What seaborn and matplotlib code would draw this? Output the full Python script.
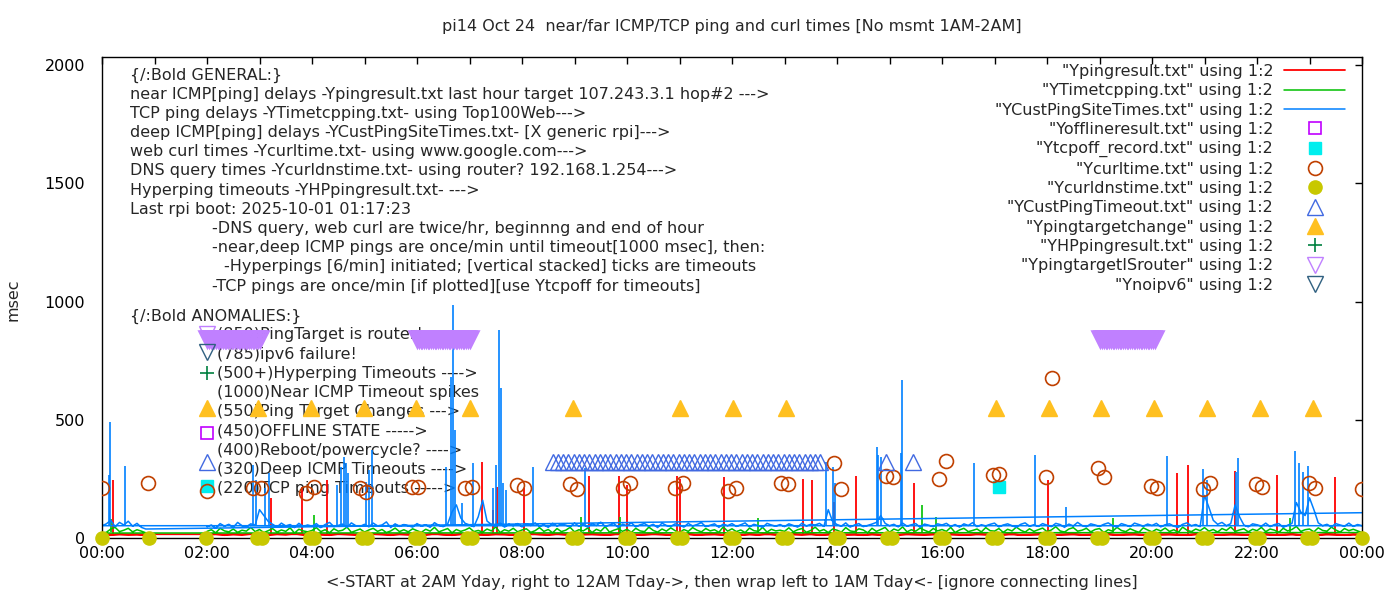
import numpy as np
import pandas as pd
import matplotlib
matplotlib.use('Agg')
import matplotlib.pyplot as plt
import seaborn as sns

# ---------------- data (x in hours, y in msec) ----------------
# segment A runs 02:00 -> 24:00, segment B wraps back to 00:00 -> 00:50

# near ICMP ping (red), one value per 10 min
red_a = """
14 16 12 15 13 17  15 12 16 14 18 13  16 14 12 17 15 13  13 17 15 12 16 14
15 13 18 14 12 16  17 14 13 16 15 12  14 18 15 13 17 14  12 15 16 14 13 18
16 13 14 17 15 12  14 17 12 15 16 13  15 12 16 13 18 14  13 16 14 17 12 15
17 14 15 12 16 13  14 13 17 15 14 16  12 16 14 13 17 15  15 14 18 12 14 16
16 13 15 17 13 14  14 17 12 15 16 13  13 15 16 14 12 17  17 12 14 16 15 13
15 16 13 14 17 12  14 13 17 15 12 16  14
"""
red_b = [16, 12, 15, 13, 14, 11]

# TCP ping (green), one value per 5 min
green_a = """
28 35 22 41 30 26 38 24 33 29 45 27   36 23 31 40 25 34 28 43 21 37 30 26
32 44 27 35 22 39 29 33 46 24 31 38   25 34 41 28 36 23 30 42 27 35 26 39
31 24 37 29 45 26 33 40 22 36 28 34   43 27 32 25 38 30 47 23 35 29 41 26
34 39 24 31 44 28 36 22 40 27 33 45   26 35 30 42 23 37 29 48 25 33 39 28
37 24 41 30 27 46 32 25 38 29 43 31   22 36 28 44 33 26 40 30 35 24 47 29
39 27 34 23 42 31 28 45 25 37 30 33   28 43 26 35 40 24 32 46 29 36 23 38
33 25 44 30 27 39 34 22 41 28 36 45   24 38 31 47 26 35 29 42 33 25 40 30
36 28 45 23 34 41 27 32 38 26 44 31   29 40 24 37 30 46 33 25 39 28 35 42
27 34 48 30 25 38 44 29 33 41 26 36   40 23 35 29 45 32 27 39 31 24 43 34
26 37 30 42 28 35 24 46 33 27 38 31   44 29 36 25 40 32 47 28 34 39 26 37
31 45 27 38 33 24 41 30 36 49 28 35   38 26 43 32 29 46 34 25 40 31 37 30
23
"""
green_b = [21, 24, 38, 45, 27, 33, 41, 26, 35, 29, 22]

# deep ICMP ping (blue), one value per 5 min
blue_a = """
48 55 42 61 50 58 45 66 52 47 60 54   120 95 70 58 46 63 51 57 44 62 49 55
50 61 44 57 66 48 53 59 45 64 52 49   58 47 63 51 55 68 44 60 49 57 52 46
61 50 56 45 65 53 48 59 110 140 85 62   55 48 90 160 72 57 50 63 46 58 52 61
47 59 53 64 49 56 45 62 51 58 54 48   63 50 57 46 60 53 67 49 55 61 45 58
52 64 47 56 61 50 58 44 63 53 49 60   55 46 62 51 57 65 48 54 60 45 59 52
61 49 56 64 47 58 52 45 62 55 50 57   48 60 53 46 63 51 58 55 62 49 120 70
57 50 64 46 55 61 48 53 59 66 95 62   52 58 47 63 50 56 61 45 59 54 48 60
55 62 49 57 46 60 53 65 48 56 51 58   63 47 55 60 52 45 58 64 50 56 49 61
54 48 62 57 45 59 51 66 53 47 60 55   49 58 64 52 46 61 55 48 63 57 50 59
53 62 47 56 60 50 45 58 64 52 57 48   180 130 75 58 66 52 61 140 90 55 47 60
56 50 63 48 57 61 45 54 62 150 110 95   170 120 64 52 58 47 61 55 50 63 49 57
52
"""
blue_b = [52, 60, 75, 48, 66, 55, 71, 50, 62, 45, 38]
blue_end = 107   # last point back at 24:00 (wrap line)

# single-minute spikes (hour, msec)
red_spike_t = [0.21, 3.22, 3.81, 4.28, 7.23, 7.45, 7.52, 8.03, 9.27, 9.84, 10.0, 10.95,
               11.0, 11.84, 13.35, 13.52, 13.94, 14.37, 15.47, 18.02, 20.47, 20.69,
               21.59, 22.39, 23.48]
red_spike_v = [246, 170, 216, 246, 322, 120, 216, 210, 263, 263, 225, 263,
               250, 258, 250, 246, 153, 263, 233, 246, 275, 309,
               284, 267, 258]
green_spike_t = [0.17, 4.04, 9.12, 9.86, 12.49, 15.62, 15.89, 19.25, 22.63]
green_spike_v = [80, 97, 89, 89, 85, 140, 89, 85, 85]
blue_spike_t = [0.14, 0.15, 0.43, 2.87, 2.93, 3.10, 3.18, 4.48, 4.55, 4.61, 4.65, 4.69,
                5.03, 5.09, 5.14, 6.55, 6.65, 6.69, 6.72, 6.85, 7.06, 7.45, 7.50, 7.57,
                7.60, 7.64, 7.69, 8.20, 9.20, 13.79, 13.92, 13.96, 14.76, 14.79, 14.83,
                15.22, 15.24, 16.61, 17.78, 18.37, 20.28, 20.97, 21.05, 21.60, 21.63,
                22.72, 22.80, 22.88, 22.98]
blue_spike_v = [267, 492, 305, 309, 246, 212, 275, 225, 301, 343, 318, 275,
                237, 288, 373, 301, 682, 987, 458, 148, 318, 212, 309, 881,
                636, 233, 203, 301, 297, 322, 301, 233, 386, 352, 343,
                360, 669, 318, 352, 131, 347, 292, 246, 280, 339,
                369, 318, 280, 305]

# point series
offline_t = [2.0]
offline_v = [445]
tcpoff_t = [2.0, 17.08]
tcpoff_v = [220, 216]
curl_t = [0.0, 0.88, 2.0, 2.88, 3.03, 3.89, 4.04, 4.92, 5.03, 5.91, 6.02, 6.92, 7.05,
          7.91, 8.03, 8.92, 9.05, 9.93, 10.05, 10.92, 11.06, 11.93, 12.07, 12.94, 13.06,
          13.95, 14.07, 14.94, 15.06, 15.95, 16.07, 16.97, 17.08, 17.98, 18.09, 18.97,
          19.08, 19.98, 20.09, 20.97, 21.10, 21.98, 22.09, 22.99, 23.10, 24.0]
curl_v = [212, 233, 199, 212, 212, 191, 216, 212, 195, 216, 216, 212, 216,
          225, 212, 229, 208, 212, 233, 212, 233, 199, 212, 233, 229,
          318, 208, 263, 258, 250, 326, 267, 271, 258, 678, 297,
          258, 220, 212, 208, 233, 229, 216, 233, 212, 208]
dns_t = [0.0, 0.9, 1.98, 2.96, 3.04, 3.96, 4.04, 4.96, 5.04, 5.96, 6.04, 6.96, 7.04,
         7.96, 8.04, 8.96, 9.04, 9.96, 10.04, 10.96, 11.04, 11.96, 12.04, 12.96, 13.04,
         13.96, 14.04, 14.96, 15.04, 15.96, 16.04, 16.96, 17.04, 17.96, 18.04, 18.96,
         19.04, 19.96, 20.04, 20.96, 21.04, 21.96, 22.04, 22.96, 23.04, 24.0]
dns_v = [0] * len(dns_t)
deep_to_min = [120, 515, 521, 527, 533, 539, 545, 551, 557, 563, 569, 575, 581, 587, 593,
               599, 605, 611, 617, 623, 629, 635, 641, 647, 653, 659, 665, 671, 677, 683,
               689, 695, 701, 707, 713, 719, 725, 731, 737, 743, 749, 755, 761, 767, 773,
               779, 785, 791, 797, 803, 809, 815, 821, 896, 927]
deep_to_v = [320] * len(deep_to_min)
target_t = [2.0, 2.97, 3.98, 4.99, 5.99, 7.0, 8.98, 11.0, 12.01, 13.02, 17.02, 18.03,
            19.02, 20.03, 21.04, 22.05, 23.07]
target_v = [550] * len(target_t)
hyper_t = [2.0]
hyper_v = [700]
router_min = [120, 122, 124, 126, 128, 130, 132, 134, 136, 138, 140, 142, 144, 146, 148,
              150, 152, 154, 156, 158, 160, 162, 164, 166, 168, 170, 172, 174, 176, 178, 180,
              360, 362, 364, 366, 368, 370, 372, 374, 376, 378, 380, 382, 384, 386, 388,
              390, 392, 394, 396, 398, 400, 402, 404, 406, 408, 410, 412, 414, 416, 418, 420,
              1141, 1143, 1145, 1147, 1149, 1151, 1153, 1155, 1157, 1159, 1161, 1163, 1165,
              1167, 1169, 1171, 1173, 1175, 1177, 1179, 1181, 1183, 1185, 1187, 1189, 1191,
              1193, 1195, 1197, 1199, 1201, 1203]
router_v = [840] * len(router_min)
router_key_t = [2.0]
router_key_v = [862]
noipv6_t = [2.0]
noipv6_v = [785]

x_ticks = list(range(0, 25))
x_labels = [f'{h % 24:02d}:00' if h % 2 == 0 else '' for h in x_ticks]

general_lines = [
    '{/:Bold GENERAL:}',
    'near ICMP[ping] delays -Ypingresult.txt last hour target 107.243.3.1 hop#2 --->',
    'TCP ping delays -YTimetcpping.txt- using Top100Web--->',
    'deep ICMP[ping] delays -YCustPingSiteTimes.txt- [X generic rpi]--->',
    'web curl times -Ycurltime.txt- using www.google.com--->',
    'DNS query times -Ycurldnstime.txt- using router? 192.168.1.254--->',
    'Hyperping timeouts -YHPpingresult.txt- --->',
    'Last rpi boot: 2025-10-01 01:17:23',
]
note_lines = [
    (212, '-DNS query, web curl are twice/hr, beginnng and end of hour'),
    (212, '-near,deep ICMP pings are once/min until timeout[1000 msec], then:'),
    (224, '-Hyperpings [6/min] initiated; [vertical stacked] ticks are timeouts'),
    (212, '-TCP pings are once/min [if plotted][use Ytcpoff for timeouts]'),
]
anomaly_lines = [
    '(850)PingTarget is router!',
    '(785)ipv6 failure!',
    '(500+)Hyperping Timeouts ---->',
    '(1000)Near ICMP Timeout spikes',
    '(550)Ping Target Changes --->',
    '(450)OFFLINE STATE ----->',
    '(400)Reboot/powercycle? ---->',
    '(320)Deep ICMP Timeouts ---->',
    '(220)TCP ping Timeouts ----->',
]


def parse(txt):
    return [int(v) for v in txt.split()]


def build_series(vals_a, vals_b, step):
    # time grid of the samples: A from 02:00, B from 00:00
    t_a = 2.0 + np.arange(len(vals_a)) * step
    t_b = np.arange(len(vals_b)) * step
    return pd.DataFrame({'t': np.concatenate([t_a, t_b]),
                         'v': np.concatenate([vals_a, vals_b])})


sns.set_theme(style='white')
plt.rcParams['font.family'] = ['DejaVu Sans']
FS = 11.5

fig = plt.figure(figsize=(14, 6), dpi=100)
L, R, T, B = 102, 1362, 57, 538
ax = fig.add_axes([L / 1400, 1 - B / 600, (R - L) / 1400, (B - T) / 600])


def axy(px, py):
    return (px - L) / (R - L), (B - py) / (B - T)


df_red = build_series(parse(red_a), red_b, 1 / 6)
df_green = build_series(parse(green_a), green_b, 1 / 12)
df_blue = build_series(parse(blue_a), blue_b, 1 / 12)
df_blue = pd.concat([df_blue, pd.DataFrame({'t': [24.0], 'v': [blue_end]})], ignore_index=True)

c_red, c_green, c_blue = '#ff0000', '#00c000', '#0080ff'

sns.lineplot(data=df_red, x='t', y='v', sort=False, estimator=None, color=c_red,
             linewidth=1.3, ax=ax, label='"Ypingresult.txt" using 1:2', zorder=2)
ax.vlines(red_spike_t, 14, red_spike_v, color=c_red, linewidth=1.3, zorder=2)
sns.lineplot(data=df_green, x='t', y='v', sort=False, estimator=None, color=c_green,
             linewidth=1.1, ax=ax, label='"YTimetcpping.txt" using 1:2', zorder=2)
ax.vlines(green_spike_t, 25, green_spike_v, color=c_green, linewidth=1.2, zorder=2)
sns.lineplot(data=df_blue, x='t', y='v', sort=False, estimator=None, color=c_blue,
             linewidth=1.1, ax=ax, label='"YCustPingSiteTimes.txt" using 1:2', zorder=2)
ax.vlines(blue_spike_t, 50, blue_spike_v, color=c_blue, linewidth=1.2, zorder=2)

mk = dict(linestyle='none', zorder=3)
ax.plot(offline_t, offline_v, marker='s', ms=9, mfc='none', mec='#c000ff', mew=1.2,
        label='"Yofflineresult.txt" using 1:2', **mk)
ax.plot(tcpoff_t, tcpoff_v, marker='s', ms=9, mfc='#00eeee', mec='#00eeee',
        label='"Ytcpoff_record.txt" using 1:2', **mk)
ax.plot(curl_t, curl_v, marker='o', ms=10, mfc='none', mec='#c04000', mew=1.2,
        label='"Ycurltime.txt" using 1:2', **mk)
ax.plot(dns_t, dns_v, marker='o', ms=9.5, mfc='#c8c800', mec='#c8c800', clip_on=False,
        label='"Ycurldnstime.txt" using 1:2', **mk)
ax.plot(np.array(deep_to_min) / 60, deep_to_v, marker='^', ms=11, mfc='none', mec='#4169e1',
        mew=1.0, label='"YCustPingTimeout.txt" using 1:2', **mk)
ax.plot(target_t, target_v, marker='^', ms=11, mfc='#ffc020', mec='#ffc020',
        label='"Ypingtargetchange" using 1:2', **mk)
ax.plot(hyper_t, hyper_v, marker='+', ms=10, mec='#008040', mew=1.2,
        label='"YHPpingresult.txt" using 1:2', **mk)
ax.plot(router_key_t, router_key_v, marker='v', ms=11, mfc='none', mec='#c080ff',
        mew=1.0, label='"YpingtargetISrouter" using 1:2', **mk)
ax.plot(np.array(router_min) / 60, router_v, marker='v', ms=11, mfc='none', mec='#c080ff',
        mew=1.8, **mk)
ax.plot(noipv6_t, noipv6_v, marker='v', ms=11, mfc='none', mec='#306080', mew=1.0,
        label='"Ynoipv6" using 1:2', **mk)

ax.set_xlim(0, 24)
ax.set_ylim(0, 2035)
ax.set_xticks(x_ticks)
ax.set_xticklabels(x_labels)
ax.set_yticks([0, 500, 1000, 1500, 2000])
ax.tick_params(direction='in', length=5, width=1, top=True, right=True, labelsize=FS,
               colors='black')
ax.tick_params(axis='x', pad=6)
ax.tick_params(axis='y', pad=12)
for s in ax.spines.values():
    s.set_color('black')
    s.set_linewidth(1)
ax.set_xlabel('')
ax.set_ylabel('')

# text blocks
for i, line in enumerate(general_lines):
    x, y = axy(130, 75 + i * 19.2)
    ax.text(x, y, line, transform=ax.transAxes, fontsize=FS, va='center', ha='left', zorder=1)
for j, (px, line) in enumerate(note_lines):
    x, y = axy(px, 75 + (len(general_lines) + j) * 19.2)
    ax.text(x, y, line, transform=ax.transAxes, fontsize=FS, va='center', ha='left', zorder=1)
x, y = axy(130, 316)
ax.text(x, y, '{/:Bold ANOMALIES:}', transform=ax.transAxes, fontsize=FS, va='center', zorder=1)
for i, line in enumerate(anomaly_lines):
    x, y = axy(217, 335 + i * 19.2)
    ax.text(x, y, line, transform=ax.transAxes, fontsize=FS, va='center', ha='left', zorder=1)

leg = ax.legend(loc='upper right', bbox_to_anchor=(1345 / 1400, 1 - 64 / 600),
                bbox_transform=fig.transFigure, markerfirst=False, frameon=False,
                fontsize=FS, handlelength=3.8, handletextpad=0.7, labelspacing=0.27,
                borderpad=0, borderaxespad=0, numpoints=1)
leg.set_zorder(5)

fig.text(732 / 1400, 1 - 26 / 600,
         'pi14 Oct 24  near/far ICMP/TCP ping and curl times [No msmt 1AM-2AM]',
         ha='center', va='center', fontsize=FS)
fig.text(732 / 1400, 1 - 583 / 600,
         '<-START at 2AM Yday, right to 12AM Tday->, then wrap left to 1AM Tday<- [ignore connecting lines]',
         ha='center', va='center', fontsize=FS)
fig.text(13 / 1400, 1 - 300 / 600, 'msec', rotation=90, ha='center', va='center', fontsize=FS)

fig.savefig('out.png', dpi=100)
